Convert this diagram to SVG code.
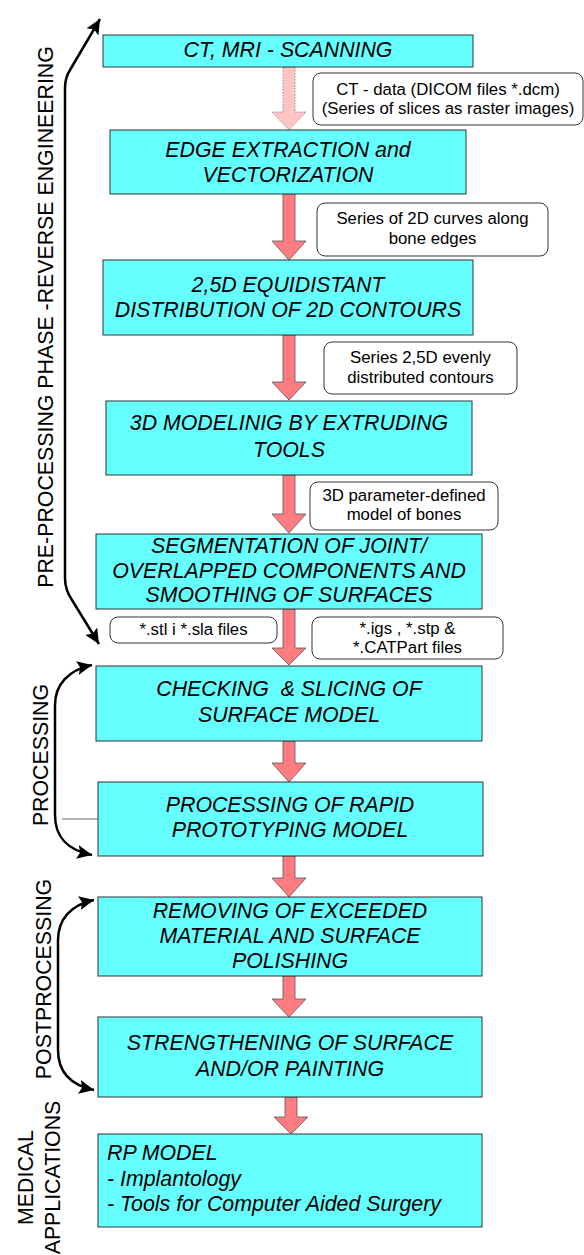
<svg xmlns="http://www.w3.org/2000/svg" width="584" height="1255" viewBox="0 0 584 1255">
  <style>
    .box { fill: #66ffff; stroke: #333333; stroke-width: 1; }
    .bt { font-family: "Liberation Sans", Arial, sans-serif; font-size: 21.33px; font-style: italic; fill: #000; text-anchor: middle; }
    .bl { font-family: "Liberation Sans", Arial, sans-serif; font-size: 21.33px; font-style: italic; fill: #000; }
    .note { fill: #ffffff; stroke: #333333; stroke-width: 1; }
    .nt { font-family: "Liberation Sans", Arial, sans-serif; font-size: 16.8px; fill: #000; text-anchor: middle; }
    .flow { fill: #ff7c80; stroke: #555555; stroke-width: 0.8; }
    .flow-light { fill: #ffc4c4; stroke: #777777; stroke-width: 0.8; stroke-dasharray: 1.5 1.5; }
    .phase { fill: none; stroke: #000; stroke-width: 2.5; }
    .side { font-family: "Liberation Sans", Arial, sans-serif; font-size: 21.33px; fill: #000; text-anchor: middle; }
  </style>
  <defs>
    <marker id="head" markerUnits="userSpaceOnUse" markerWidth="16" markerHeight="14" viewBox="0 0 16 14" refX="15" refY="7" orient="auto-start-reverse">
      <path d="M0,0 L15,7 L0,14 L3,7 Z" fill="#000"/>
    </marker>
  </defs>

  <!-- phase brackets -->
  <g id="connectors">
    <path class="phase" d="M100,19 L70,70 Q65,78 65,88 L65,578 Q65,590 72,600 L99,644" marker-start="url(#head)" marker-end="url(#head)"/>
    <path class="phase" d="M92,665 C68,670 55,685 55,705 L55,815 C55,838 68,850 92,855" marker-start="url(#head)" marker-end="url(#head)"/>
    <line x1="62" y1="819" x2="98" y2="819" stroke="#666" stroke-width="1"/>
    <path class="phase" d="M94,900 C70,905 58,920 58,940 L58,1050 C58,1072 70,1085 94,1090" marker-start="url(#head)" marker-end="url(#head)"/>

    <!-- block arrows between steps -->
    <path class="flow-light" d="M283,67 L295,67 L295,112 L306,112 L289,130 L272,112 L283,112 Z"/>
    <path class="flow" d="M283,194 L295,194 L295,241 L306,241 L289,260 L272,241 L283,241 Z"/>
    <path class="flow" d="M283,335 L295,335 L295,382 L306,382 L289,400 L272,382 L283,382 Z"/>
    <path class="flow" d="M283,475 L295,475 L295,514 L306,514 L289,533 L272,514 L283,514 Z"/>
    <path class="flow" d="M283,609 L295,609 L295,648 L306,648 L289,665 L272,648 L283,648 Z"/>
    <path class="flow" d="M283,741 L295,741 L295,763 L306,763 L289,782 L272,763 L283,763 Z"/>
    <path class="flow" d="M283,856 L295,856 L295,878 L306,878 L289,897 L272,878 L283,878 Z"/>
    <path class="flow" d="M283,976 L295,976 L295,999 L306,999 L289,1017 L272,999 L283,999 Z"/>
    <path class="flow" d="M285,1097 L297,1097 L297,1117 L308,1117 L291,1134 L274,1117 L285,1117 Z"/>
  </g>

  <!-- phase captions -->
  <g id="phase-labels">
    <text class="side" transform="translate(53,317) rotate(-90)">PRE-PROCESSING PHASE -REVERSE ENGINEERING</text>
    <text class="side" transform="translate(48,755) rotate(-90)">PROCESSING</text>
    <text class="side" transform="translate(51,979) rotate(-90)">POSTPROCESSING</text>
    <text class="side" transform="translate(33,1177.5) rotate(-90)">MEDICAL</text>
    <text class="side" transform="translate(60,1177.5) rotate(-90)">APPLICATIONS</text>
  </g>

  <g id="scanning">
    <rect class="box" x="103" y="35" width="370" height="32"/>
    <text class="bt" x="288" y="57">CT, MRI - SCANNING</text>
  </g>
  <g id="note-ct-data">
    <rect class="note" x="313" y="73" width="270" height="52" rx="8"/>
    <text class="nt" x="448" y="95">CT - data (DICOM files *.dcm)</text>
    <text class="nt" x="448" y="114">(Series of slices as raster images)</text>
  </g>

  <g id="edge-extraction">
    <rect class="box" x="110" y="130" width="356" height="64"/>
    <text class="bt" x="288" y="157">EDGE EXTRACTION and</text>
    <text class="bt" x="288" y="182">VECTORIZATION</text>
  </g>
  <g id="note-curves">
    <rect class="note" x="317" y="203" width="231" height="53" rx="8"/>
    <text class="nt" x="432.5" y="224">Series of 2D curves along</text>
    <text class="nt" x="432.5" y="244">bone edges</text>
  </g>

  <g id="distribution">
    <rect class="box" x="103" y="260" width="370" height="75"/>
    <text class="bt" x="288" y="292">2,5D EQUIDISTANT</text>
    <text class="bt" x="288" y="317">DISTRIBUTION OF 2D CONTOURS</text>
  </g>
  <g id="note-contours">
    <rect class="note" x="324" y="342" width="193" height="52" rx="8"/>
    <text class="nt" x="420.5" y="363">Series 2,5D evenly</text>
    <text class="nt" x="420.5" y="383">distributed contours</text>
  </g>

  <g id="modeling">
    <rect class="box" x="106" y="401" width="366" height="74"/>
    <text class="bt" x="289" y="430">3D MODELINIG BY EXTRUDING</text>
    <text class="bt" x="289" y="457">TOOLS</text>
  </g>
  <g id="note-model">
    <rect class="note" x="310" y="482" width="188" height="48" rx="8"/>
    <text class="nt" x="404" y="501">3D parameter-defined</text>
    <text class="nt" x="404" y="520">model of bones</text>
  </g>

  <g id="segmentation">
    <rect class="box" x="96" y="534" width="386" height="75"/>
    <text class="bt" x="289" y="553">SEGMENTATION OF JOINT/</text>
    <text class="bt" x="289" y="578">OVERLAPPED COMPONENTS AND</text>
    <text class="bt" x="289" y="602">SMOOTHING OF SURFACES</text>
  </g>
  <g id="note-stl">
    <rect class="note" x="110" y="617" width="167" height="26" rx="8"/>
    <text class="nt" x="193.5" y="635">*.stl i *.sla files</text>
  </g>
  <g id="note-igs">
    <rect class="note" x="312" y="617" width="191" height="42" rx="8"/>
    <text class="nt" x="407.5" y="634">*.igs , *.stp &amp;</text>
    <text class="nt" x="407.5" y="653">*.CATPart files</text>
  </g>

  <g id="checking">
    <rect class="box" x="96" y="666" width="386" height="75"/>
    <text class="bt" x="289" y="696" xml:space="preserve">CHECKING  &amp; SLICING OF</text>
    <text class="bt" x="289" y="722">SURFACE MODEL</text>
  </g>

  <g id="rp-processing">
    <rect class="box" x="98" y="782" width="385" height="74"/>
    <text class="bt" x="290" y="812">PROCESSING OF RAPID</text>
    <text class="bt" x="290" y="837">PROTOTYPING MODEL</text>
  </g>

  <g id="removing">
    <rect class="box" x="98" y="897" width="384" height="79"/>
    <text class="bt" x="290" y="918">REMOVING OF EXCEEDED</text>
    <text class="bt" x="290" y="943">MATERIAL AND SURFACE</text>
    <text class="bt" x="290" y="968">POLISHING</text>
  </g>

  <g id="strengthening">
    <rect class="box" x="98" y="1017" width="384" height="80"/>
    <text class="bt" x="290" y="1050">STRENGTHENING OF SURFACE</text>
    <text class="bt" x="290" y="1076">AND/OR PAINTING</text>
  </g>

  <g id="rp-model">
    <rect class="box" x="98" y="1134" width="384" height="93"/>
    <text class="bl" x="107" y="1160">RP MODEL</text>
    <text class="bl" x="107" y="1186">- Implantology</text>
    <text class="bl" x="107" y="1211">- Tools for Computer Aided Surgery</text>
  </g>
</svg>
